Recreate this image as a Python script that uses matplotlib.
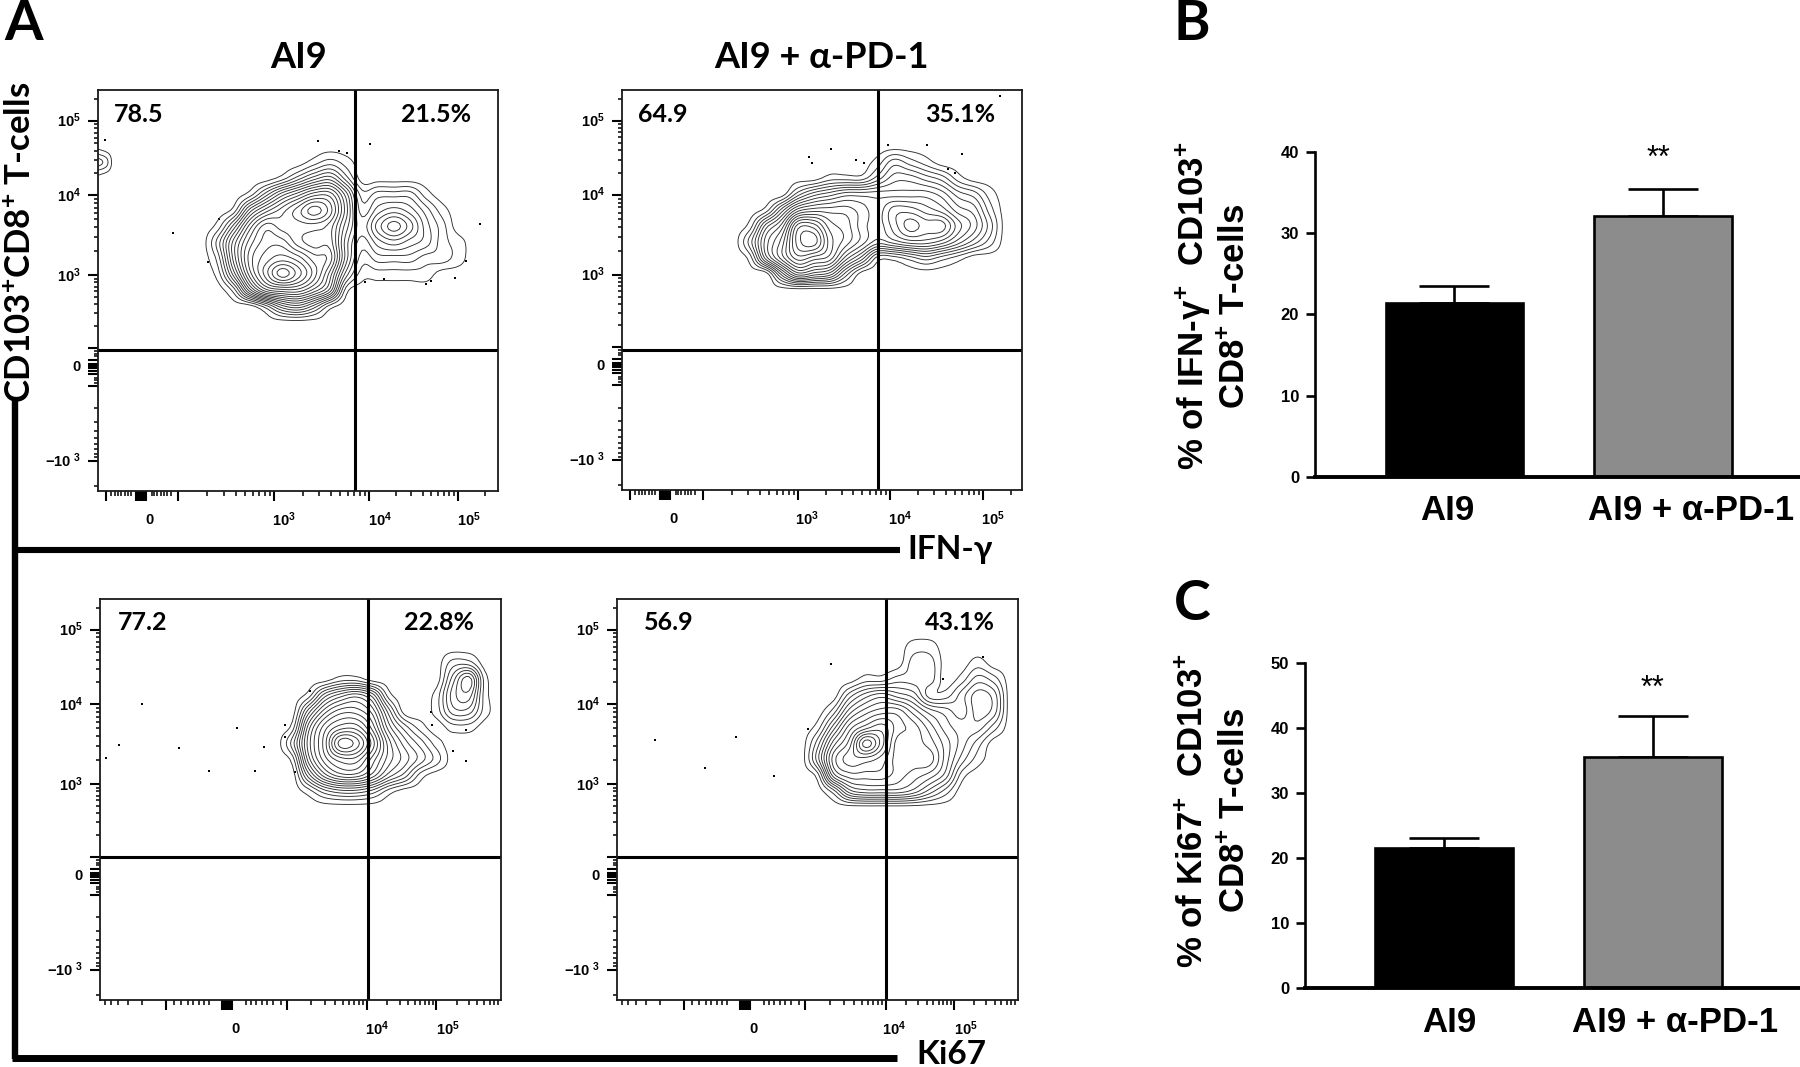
import numpy as np
import matplotlib
matplotlib.use("Agg")
import matplotlib.pyplot as plt

plt.rcParams['font.family'] = ['Liberation Sans', 'DejaVu Sans']
plt.rcParams['mathtext.fontset'] = 'custom'
plt.rcParams['mathtext.rm'] = 'Liberation Sans'
plt.rcParams['mathtext.bf'] = 'Liberation Sans:bold'
plt.rcParams['mathtext.default'] = 'regular'

W, H = 1800, 1067

# flow plots: values are display channels (0-400 across each plot)
a1_x = [104, 120, 136, 152, 168, 184, 200, 216, 232, 248, 264, 280, 296, 312, 328, 344, 360, 376]
a1_y = [344, 328, 312, 296, 280, 264, 248, 232, 216, 200, 184, 168]
a1_levels = [
    [0, 0, 0, 0, 0, 0, 0, 0, 0, 0, 0, 0, 0, 0, 0, 0, 0, 0],
    [0, 0, 0, 0, 0, 0, 0, 1, 2, 1, 0, 0, 0, 0, 0, 0, 0, 0],
    [0, 0, 0, 0, 0, 1, 3, 5, 6, 3, 0, 0, 0, 0, 0, 0, 0, 0],
    [0, 0, 0, 1, 4, 7, 9, 11, 11, 7, 2, 3, 3, 3, 1, 0, 0, 0],
    [0, 0, 1, 6, 9, 11, 13, 15, 13, 8, 3, 5, 6, 5, 3, 1, 0, 0],
    [0, 1, 5, 10, 13, 12, 12, 12, 11, 7, 4, 7, 9, 7, 4, 2, 0, 0],
    [0, 3, 8, 12, 14, 14, 12, 11, 11, 6, 3, 5, 6, 5, 4, 2, 1, 0],
    [0, 2, 8, 13, 15, 16, 15, 13, 12, 6, 2, 3, 3, 3, 2, 2, 1, 0],
    [0, 1, 6, 12, 16, 19, 17, 14, 10, 4, 1, 1, 1, 1, 1, 0, 0, 0],
    [0, 0, 2, 8, 12, 13, 13, 11, 8, 1, 0, 0, 0, 0, 0, 0, 0, 0],
    [0, 0, 0, 0, 2, 5, 6, 4, 1, 0, 0, 0, 0, 0, 0, 0, 0, 0],
    [0, 0, 0, 0, 0, 0, 0, 0, 0, 0, 0, 0, 0, 0, 0, 0, 0, 0],
]
a1_corner_x = [-8, 0, 8, 16]
a1_corner_y = [352, 340, 328, 316, 304]
a1_corner_levels = [
    [0, 0, 0, 0],
    [0.6, 0.6, 0.3, 0],
    [3, 3, 2, 0],
    [0.6, 0.6, 0.3, 0],
    [0, 0, 0, 0],
]
a1_dots_x = [7, 220, 241, 249, 272, 121, 75, 110, 382, 368, 357, 333, 328, 286, 267]
a1_dots_y = [350, 349, 339, 337, 346, 271, 257, 228, 266, 229, 212, 209, 206, 211, 208]

a2_x = [112, 128, 144, 160, 176, 192, 208, 224, 240, 256, 272, 288, 304, 320, 336, 352, 368, 384]
a2_y = [344, 328, 312, 296, 280, 264, 248, 232, 216, 200]
a2_levels = [
    [0, 0, 0, 0, 0, 0, 0, 0, 0, 0, 0, 0, 0, 0, 0, 0, 0, 0],
    [0, 0, 0, 0, 0, 0, 0, 0, 0, 1, 3, 2, 1, 0, 0, 0, 0, 0],
    [0, 0, 0, 0, 0, 0, 1, 1, 1, 3, 5, 5, 4, 3, 1, 0, 0, 0],
    [0, 0, 0, 0, 3, 5, 6, 7, 7, 7, 7, 7, 7, 6, 4, 3, 1, 0],
    [0, 0, 1, 5, 9, 10, 10, 10, 9, 8, 10, 10, 9, 8, 6, 5, 2, 0],
    [0, 1, 6, 9, 15, 15, 12, 11, 9, 8, 10, 12, 11, 11, 8, 6, 3, 0],
    [0, 3, 8, 11, 16, 17, 13, 11, 9, 7, 8, 9, 9, 8, 6, 4, 2, 0],
    [0, 1, 7, 11, 14, 13, 12, 8, 5, 1, 1, 2, 3, 2, 1, 0, 0, 0],
    [0, 0, 0, 5, 9, 8, 7, 3, 0, 0, 0, 0, 0, 0, 0, 0, 0, 0],
    [0, 0, 0, 0, 0, 0, 0, 0, 0, 0, 0, 0, 0, 0, 0, 0, 0, 0],
]
a2_dots_x = [378, 209, 187, 190, 234, 242, 266, 305, 340, 326, 333]
a2_dots_y = [394, 341, 333, 327, 330, 327, 345, 345, 336, 321, 317]

a3_x = [176, 192, 208, 224, 240, 256, 272, 288, 304, 320, 336, 352, 368, 384, 400]
a3_y = [352, 336, 320, 304, 288, 272, 256, 240, 224, 208, 192]
a3_levels = [
    [0, 0, 0, 0, 0, 0, 0, 0, 0, 0, 0, 0, 0, 0, 0],
    [0, 0, 0, 0, 0, 0, 0, 0, 0, 0, 0, 2, 2, 0, 0],
    [0, 0, 0, 0, 1, 1, 0, 0, 0, 0, 0, 4, 7, 1, 0],
    [0, 0, 1, 5, 7, 8, 6, 1, 0, 0, 1, 5, 6, 1, 0],
    [0, 0, 5, 9, 11, 11, 9, 4, 0, 0, 1, 4, 4, 1, 0],
    [0, 1, 8, 12, 14, 14, 11, 6, 3, 1, 0, 1, 1, 0, 0],
    [0, 3, 9, 13, 18, 17, 13, 8, 5, 3, 1, 0, 0, 0, 0],
    [0, 1, 8, 12, 14, 14, 11, 8, 6, 4, 2, 0, 0, 0, 0],
    [0, 0, 5, 9, 11, 11, 9, 6, 4, 1, 0, 0, 0, 0, 0],
    [0, 0, 1, 3, 4, 4, 3, 1, 0, 0, 0, 0, 0, 0, 0],
    [0, 0, 0, 0, 0, 0, 0, 0, 0, 0, 0, 0, 0, 0, 0],
]
a3_dots_x = [42, 137, 164, 79, 19, 6, 109, 155, 185, 185, 195, 209, 330, 331, 352, 365, 365]
a3_dots_y = [295, 271, 252, 251, 254, 241, 228, 228, 274, 262, 227, 308, 287, 274, 248, 238, 269]

a4_x = [184, 200, 216, 232, 248, 264, 280, 296, 312, 328, 344, 360, 376, 392]
a4_y = [368, 352, 336, 320, 304, 288, 272, 256, 240, 224, 208, 192]
a4_levels = [
    [0, 0, 0, 0, 0, 0, 0, 0, 0, 0, 0, 0, 0, 0],
    [0, 0, 0, 0, 0, 0, 0, 1, 1, 0, 0, 0, 0, 0],
    [0, 0, 0, 0, 0, 0, 0, 2, 2, 0, 0, 1, 0, 0],
    [0, 0, 0, 0, 1, 1, 2, 2, 2, 0, 1, 3, 2, 0],
    [0, 0, 0, 3, 5, 6, 5, 4, 1, 1, 3, 5, 4, 0],
    [0, 0, 2, 6, 8, 9, 9, 7, 5, 4, 3, 5, 4, 0],
    [0, 1, 5, 9, 11, 12, 10, 9, 7, 5, 4, 4, 2, 0],
    [0, 3, 8, 11, 16, 13, 9, 9, 8, 6, 4, 2, 0, 0],
    [0, 4, 10, 12, 12, 11, 9, 9, 9, 6, 3, 1, 0, 0],
    [0, 1, 8, 10, 10, 10, 9, 8, 7, 5, 1, 0, 0, 0],
    [0, 0, 2, 6, 7, 7, 7, 6, 4, 2, 0, 0, 0, 0],
    [0, 0, 0, 0, 0, 0, 0, 0, 0, 0, 0, 0, 0, 0],
]
a4_dots_x = [38, 119, 88, 157, 191, 213, 365, 325]
a4_dots_y = [259, 262, 231, 223, 270, 335, 342, 320]

# axis ticks of the flow plots, in channels
flow_y_major = [369, 295, 215, 143, 105, 30]
flow_y_zero = 124
a1_x_major = [8, 80, 176, 271, 360]
a2_x_major = [8, 81, 176, 268, 361]
a3_x_major = [66, 187, 266, 335]
a4_x_major = [67, 188, 268, 336]
x_exp_labels = ['$\\mathbf{10^{3}}$', '$\\mathbf{10^{4}}$', '$\\mathbf{10^{5}}$']
y_tick_labels = ['$\\mathbf{10^{5}}$', '$\\mathbf{10^{4}}$', '$\\mathbf{10^{3}}$', '0', '$\\mathbf{-10^{\\ 3}}$']

# bar charts
groups = ['AI9', 'AI9 + α-PD-1']
b_means = [21.4, 32.1]
b_err = [2.1, 3.3]
c_means = [21.5, 35.5]
c_err = [1.6, 6.4]
bar_colors = ['black', '#8c8c8c']


def px_axes(fig, x0, y0, x1, y1):
    return fig.add_axes([x0 / W, 1 - y1 / H, (x1 - x0) / W, (y1 - y0) / H])


def decade_ticks(a, b):
    return [a + (b - a) * np.log10(n) for n in range(2, 10)]


def smooth_axis(z, k):
    # Catmull-Rom along the last axis, the read values stay on the curve
    p = np.concatenate([z[..., :1], z, z[..., -1:]], axis=-1)
    out = []
    for i in range(1, p.shape[-1] - 2):
        p0, p1, p2, p3 = p[..., i - 1], p[..., i], p[..., i + 1], p[..., i + 2]
        for t in np.arange(k) / k:
            out.append(0.5 * (2 * p1 + (p2 - p0) * t + (2 * p0 - 5 * p1 + 4 * p2 - p3) * t ** 2
                              + (3 * p1 - p0 - 3 * p2 + p3) * t ** 3))
    out.append(p[..., -2])
    return np.stack(out, axis=-1)


def draw_rings(ax, gx, gy, lv, k=6):
    # rounder rings than the bare grid would give, only for drawing
    lv = np.array(lv, dtype=float)
    fine = smooth_axis(smooth_axis(lv, k).T, k).T
    fx = np.interp(np.arange((len(gx) - 1) * k + 1) / k, np.arange(len(gx)), gx)
    fy = np.interp(np.arange((len(gy) - 1) * k + 1) / k, np.arange(len(gy)), gy)
    ax.contour(fx, fy, fine, levels=np.arange(0.5, lv.max(), 1), colors='#2e2e2e', linewidths=0.65)


def flow_panel(fig, box, gate, grids, dots, x_major, zero_x, x_labels, y_left=-17):
    ax = px_axes(fig, *box)
    ax.set_xlim(0, 400)
    ax.set_ylim(0, 400)
    for gx, gy, lv in grids:
        draw_rings(ax, gx, gy, lv)
    ax.scatter(dots[0], dots[1], s=2.5, c='black', marker='s', linewidths=0)
    ax.axvline(gate[0], color='black', lw=2.2)
    ax.axhline(gate[1], color='black', lw=2.2)
    for s in ax.spines.values():
        s.set_linewidth(1.3)
        s.set_color('#1a1a1a')

    # y axis furniture
    y_minor = [391]
    for a, b in zip([295, 215, 143], [369, 295, 215]):
        y_minor += decade_ticks(a, b)
    y_minor += [105 - 75 * np.log10(n) for n in range(2, 10)] + [5]
    y_minor += [flow_y_zero + s * d for s in (-1, 1) for d in (11, 13, 16)]
    y_block = [flow_y_zero + d for d in (-7, -4, -1, 1, 3, 7)]
    ax.set_yticks(flow_y_major + y_block)
    ax.set_yticks(y_minor, minor=True)
    ax.set_yticklabels([])
    ax.tick_params(axis='y', which='major', direction='out', length=7.5, width=1.5)
    ax.tick_params(axis='y', which='minor', direction='out', length=3, width=1.1)

    # x axis furniture
    half = zero_x - x_major[0]
    decades = x_major[1:]
    x_minor = []
    for a, b in zip(decades[:-1], decades[1:]):
        x_minor += decade_ticks(a, b)
    x_minor += [x_major[-1] + (x_major[-1] - x_major[-2]) * np.log10(n) for n in range(2, 10)]
    if x_major[0] > 40:
        x_minor += [x_major[0] - (decades[1] - decades[0]) * np.log10(n) for n in range(2, 10)]
    x_minor += [zero_x + s * half * d for s in (-1, 1)
                for d in (0.3, 0.38, 0.47, 0.56, 0.65, 0.75, 0.87)]
    x_minor = [v for v in x_minor if 0 < v < 400]
    x_block = [zero_x + d for d in (-5, -3, -1, 1, 3, 5)]
    ax.set_xticks(x_major + x_block)
    ax.set_xticks(x_minor, minor=True)
    ax.set_xticklabels([])
    ax.tick_params(axis='x', which='major', direction='out', length=7.5, width=1.5)
    ax.tick_params(axis='x', which='minor', direction='out', length=3.5, width=1.1)

    for val, txt in zip([369, 295, 215, 124, 30], y_tick_labels):
        ax.text(y_left, val, txt, ha='right', va='center', fontsize=10.5, fontweight='bold')
    for val, txt in x_labels:
        ax.text(val, -29, txt, ha='center', va='center', fontsize=10.5, fontweight='bold')
    return ax


def bar_panel(fig, box, means, err, xlim, ymax, yticks):
    ax = px_axes(fig, *box)
    ax.bar([0, 1], means, width=0.66, color=bar_colors, edgecolor='black', linewidth=1.9, zorder=2)
    ax.errorbar([0, 1], means, yerr=[[0, 0], err], fmt='none', ecolor='black',
                elinewidth=1.9, capsize=25, capthick=1.9, zorder=1)
    ax.set_xlim(*xlim)
    ax.set_ylim(0, ymax)
    ax.set_yticks(yticks)
    ax.set_xticks([])
    ax.tick_params(axis='y', length=6.5, width=1.9, pad=5, labelsize=12)
    for lab in ax.get_yticklabels():
        lab.set_fontweight('bold')
    ax.spines['top'].set_visible(False)
    ax.spines['right'].set_visible(False)
    ax.spines['left'].set_linewidth(1.9)
    ax.spines['bottom'].set_linewidth(2.8)
    ax.patch.set_alpha(0)
    return ax


fig = plt.figure(figsize=(W / 100, H / 100), dpi=100, facecolor='white')

flow_panel(fig, (98, 90, 498, 491), (257, 141),
           [(a1_x, a1_y, a1_levels), (a1_corner_x, a1_corner_y, a1_corner_levels)],
           (a1_dots_x, a1_dots_y), a1_x_major, 43,
           [(52, '0'), (186, x_exp_labels[0]), (282, x_exp_labels[1]), (371, x_exp_labels[2])])
flow_panel(fig, (622, 90, 1022, 490), (256, 140),
           [(a2_x, a2_y, a2_levels)], (a2_dots_x, a2_dots_y), a2_x_major, 43,
           [(52, '0'), (185, x_exp_labels[0]), (278, x_exp_labels[1]), (371, x_exp_labels[2])])
flow_panel(fig, (100, 599, 501, 1000), (267, 143),
           [(a3_x, a3_y, a3_levels)], (a3_dots_x, a3_dots_y), a3_x_major, 127,
           [(135, '0'), (276, x_exp_labels[1]), (347, x_exp_labels[2])])
flow_panel(fig, (617, 599, 1018, 1000), (268, 143),
           [(a4_x, a4_y, a4_levels)], (a4_dots_x, a4_dots_y), a4_x_major, 128,
           [(136, '0'), (276, x_exp_labels[1]), (348, x_exp_labels[2])])

bar_panel(fig, (1315, 152, 1800, 477), b_means, b_err, (-0.669, 1.657), 40, [0, 10, 20, 30, 40])
bar_panel(fig, (1305, 663, 1800, 988), c_means, c_err, (-0.665, 1.703), 50, [0, 10, 20, 30, 40, 50])

# overlay in picture pixels for the lettering and the big axis arrows
ov = fig.add_axes([0, 0, 1, 1])
ov.set_xlim(0, W)
ov.set_ylim(H, 0)
ov.axis('off')
ov.patch.set_alpha(0)

ov.plot([15, 15], [398, 1059], color='black', lw=4.6, solid_capstyle='butt')
ov.plot([12, 900], [550, 550], color='black', lw=4.4, solid_capstyle='butt')
ov.plot([12, 897], [1058, 1058], color='black', lw=5, solid_capstyle='butt')

lato = ['Lato', 'DejaVu Sans']
for txt, x, y in [('A', 24, 40), ('B', 1192, 40), ('C', 1192, 620)]:
    ov.text(x, y, txt, family=lato, fontweight='bold', fontsize=40, ha='center', va='baseline')
ov.text(299, 57, 'AI9', family=lato, fontweight='bold', fontsize=26, ha='center', va='center')
ov.text(821, 57, 'AI9 + α-PD-1', family=lato, fontweight='bold', fontsize=26, ha='center', va='center')
ov.text(950, 549, 'IFN-γ', family=lato, fontweight='bold', fontsize=24, ha='center', va='center')
ov.text(951, 1054, 'Ki67', family=lato, fontweight='bold', fontsize=24, ha='center', va='center')
ov.text(21, 242, 'CD103$^{\\mathbf{+}}$CD8$^{\\mathbf{+}}$ T-cells', family=lato, fontweight='bold',
        fontsize=25, rotation=90, ha='center', va='center')

for txt, x, y in [('78.5', 139, 115), ('21.5%', 436, 115), ('64.9', 663, 115), ('35.1%', 960, 115),
                  ('77.2', 143, 622), ('22.8%', 439, 622), ('56.9', 669, 622), ('43.1%', 960, 622)]:
    ov.text(x, y, txt, family=lato, fontweight='bold', fontsize=18, ha='center', va='center')

for name, x, y in zip(groups + groups, [1447, 1691, 1449, 1675], [510, 510, 1023, 1023]):
    ov.text(x, y, name, fontweight='bold', fontsize=25, ha='center', va='center')
ov.text(1658, 159, '**', fontsize=22, ha='center', va='center')
ov.text(1652, 689, '**', fontsize=22, ha='center', va='center')

ov.text(1193, 306, '% of IFN-γ$^{\\mathbf{+}}$  CD103$^{\\mathbf{+}}$', fontweight='bold', fontsize=25,
        rotation=90, ha='center', va='center')
ov.text(1235, 306, 'CD8$^{\\mathbf{+}}$ T-cells', fontweight='bold', fontsize=25,
        rotation=90, ha='center', va='center')
ov.text(1193, 811, '% of Ki67$^{\\mathbf{+}}$  CD103$^{\\mathbf{+}}$', fontweight='bold', fontsize=25,
        rotation=90, ha='center', va='center')
ov.text(1235, 810, 'CD8$^{\\mathbf{+}}$ T-cells', fontweight='bold', fontsize=25,
        rotation=90, ha='center', va='center')

fig.savefig('out.png', dpi=100)
